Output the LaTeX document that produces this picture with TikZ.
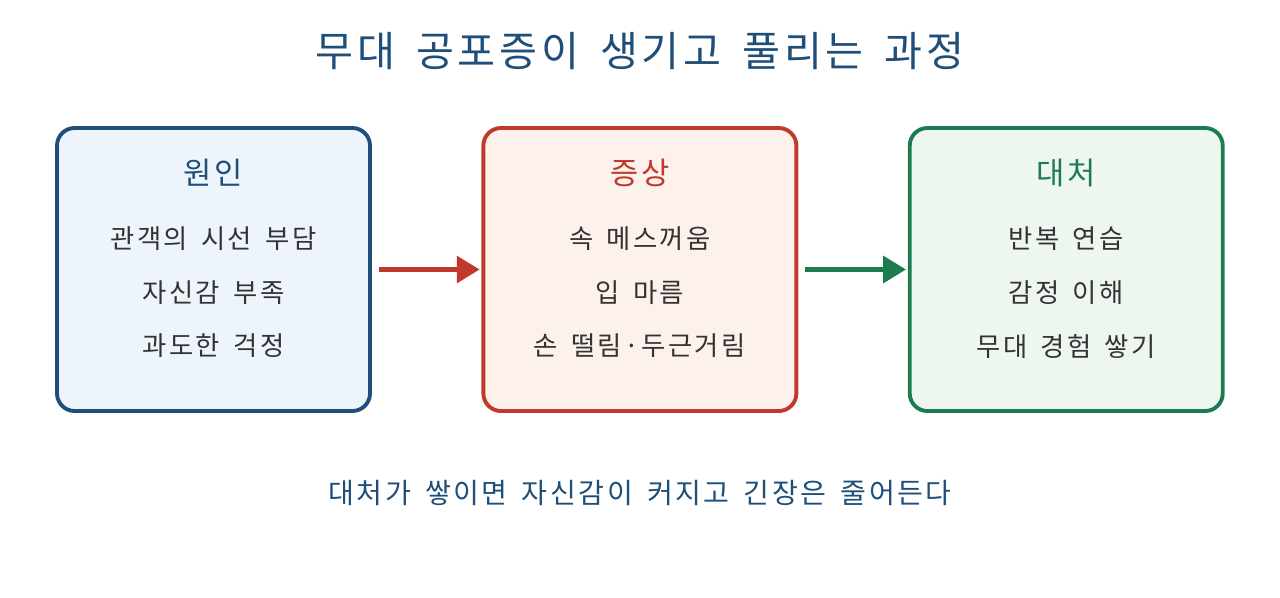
\documentclass[tikz,border=0pt]{standalone}
\usepackage{fontspec}
\setmainfont[LetterSpace=9, WordSpace=1.6]{Noto Sans CJK KR}
\usetikzlibrary{positioning, arrows.meta}
\definecolor{causeblue}{HTML}{1F4E79}
\definecolor{causefill}{HTML}{EEF4FB}
\definecolor{symred}{HTML}{C0392B}
\definecolor{symfill}{HTML}{FDF1EC}
\definecolor{copegreen}{HTML}{1E7B4F}
\definecolor{copefill}{HTML}{EDF7F0}
\definecolor{itemgray}{HTML}{333333}
\tikzset{stage/.style={draw, rounded corners=10pt, line width=2.2pt,
  minimum width=6.26cm, minimum height=5.66cm}}
\tikzset{heading/.style={font=\fontsize{17.5}{20}\selectfont}}
\tikzset{item/.style={text=itemgray, font=\fontsize{15}{17}\selectfont}}
\tikzset{flow/.style={line width=2.8pt, -{Triangle[length=13pt, width=15pt]},
  shorten <=4pt, shorten >=1pt}}

\begin{document}
\begin{tikzpicture}[node distance=2.19cm]
  \useasboundingbox (0,0) rectangle (25.6,-11.94);
  % Title
  \node[text=causeblue, font=\fontsize{23.5}{27}\selectfont] (title) at (12.8,-1.02) {무대 공포증이 생기고 풀리는 과정};
  % Boxes
  \node[stage, draw=causeblue, fill=causefill] (cause) at (4.27,-5.39) {};
  \node[stage, draw=symred, fill=symfill, right=of cause] (sym) {};
  \node[stage, draw=copegreen, fill=copefill, right=of sym] (cope) {};
  % Box texts
  \node[heading, text=causeblue] (causeh) at ([yshift=-0.94cm]cause.north) {원인};
  \node[item] (c1) at ([yshift=-2.26cm]cause.north) {관객의 시선 부담};
  \node[item] (c2) at ([yshift=-3.34cm]cause.north) {자신감 부족};
  \node[item] (c3) at ([yshift=-4.4cm]cause.north) {과도한 걱정};
  \node[heading, text=symred] (symh) at ([yshift=-0.94cm]sym.north) {증상};
  \node[item] (s1) at ([yshift=-2.26cm]sym.north) {속 메스꺼움};
  \node[item] (s2) at ([yshift=-3.34cm]sym.north) {입 마름};
  \node[item] (s3) at ([yshift=-4.4cm]sym.north) {손 떨림·두근거림};
  \node[heading, text=copegreen] (copeh) at ([yshift=-0.94cm]cope.north) {대처};
  \node[item] (p1) at ([yshift=-2.26cm]cope.north) {반복 연습};
  \node[item] (p2) at ([yshift=-3.34cm]cope.north) {감정 이해};
  \node[item] (p3) at ([yshift=-4.4cm]cope.north) {무대 경험 쌓기};
  % Arrows
  \draw[flow, symred] (cause) -- (sym);
  \draw[flow, copegreen] (sym) -- (cope);
  % Note
  \node[text=causeblue, font=\fontsize{16}{18}\selectfont] (note) at (12.8,-9.86) {대처가 쌓이면 자신감이 커지고 긴장은 줄어든다};
\end{tikzpicture}
\end{document}
